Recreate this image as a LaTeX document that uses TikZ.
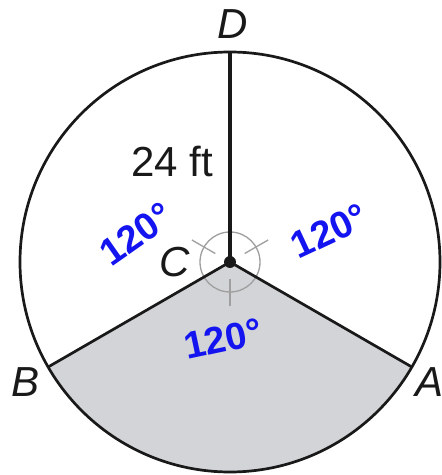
\documentclass[tikz,border=0pt]{standalone}
\usepackage{fontspec}
\setmainfont{Liberation Sans}
\definecolor{handblue}{RGB}{20,20,240}
\definecolor{sectorgray}{RGB}{210,212,215}
\definecolor{inkblack}{RGB}{25,25,25}
\begin{document}
\begin{tikzpicture}[x=1pt,y=1pt,
  lbl/.style={font=\fontsize{42}{42}\selectfont\itshape, text=inkblack, inner sep=0pt},
  plainlbl/.style={font=\fontsize{42}{42}\selectfont, text=inkblack, inner sep=0pt},
  hand/.style={font=\fontsize{38}{38}\selectfont\bfseries, text=handblue, inner sep=0pt},
  tickmark/.style={draw=gray!75, line width=1.3pt},
  rim/.style={draw=inkblack, line width=2.7pt},
  spoke/.style={draw=inkblack, line width=2.7pt},
  radius24/.style={draw=inkblack, line width=4.5pt}
]
\useasboundingbox (0,0) rectangle (442,475);
\fill[white] (0,0) rectangle (442,475);
\coordinate (C) at (230,213);
\coordinate (D) at ([shift={(90:210)}]C);
\coordinate (B) at ([shift={(210:210)}]C);
\coordinate (A) at ([shift={(330:210)}]C);
% shaded sector
\fill[sectorgray] (C) -- (B) arc[start angle=210, end angle=330, radius=210] -- cycle;
% circle
\draw[rim] (C) circle[radius=210];
% angle marks
\draw[tickmark] (C) circle[radius=30];
\foreach \a in {30,150,270}
  \draw[tickmark] ([shift={(\a:17)}]C) -- ([shift={(\a:44)}]C);
% radii
\draw[spoke, line join=round] (B) -- (C) -- (A);
\draw[radius24] (C) -- (D);
\fill[inkblack] (C) circle[radius=6];
% labels
\node[lbl] (lD) at (233,451) {D};
\node[lbl] (lC) at (175,213) {C};
\node[lbl] (lB) at (26,93) {B};
\node[lbl] (lA) at (430,93) {A};
\node[plainlbl] (l24) at (172,314) {24 ft};
% handwritten angle labels
\node[hand, rotate=35] (h1) at (136,241) {120°};
\node[hand, rotate=25] (h2) at (329,244) {120°};
\node[hand, rotate=12] (h3) at (223,136) {120°};
\end{tikzpicture}
\end{document}
